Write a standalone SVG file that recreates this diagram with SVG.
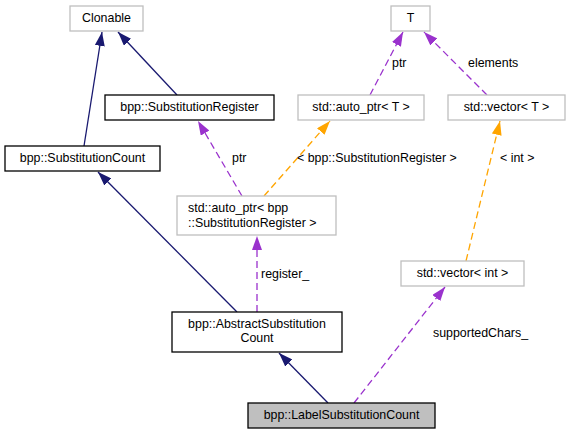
<svg xmlns="http://www.w3.org/2000/svg" width="570" height="435" viewBox="0 0 570 435">
<style>
text{font-family:"Liberation Sans",Arial,sans-serif;font-size:12.4px;fill:#000}
.c{text-anchor:middle}
.g{fill:#fff;stroke:#bfbfbf;stroke-width:1.3}
.b{fill:#fff;stroke:#000;stroke-width:1.3}
.s{fill:#bfbfbf;stroke:#000;stroke-width:1.3}
.inh{fill:none;stroke:#191970;stroke-width:1.3}
.use{fill:none;stroke:#9a32cd;stroke-width:1.3;stroke-dasharray:7,4}
.tpl{fill:none;stroke:#ffa500;stroke-width:1.3;stroke-dasharray:7,4}
</style>
<defs>
<marker id="an" viewBox="0 0 14 10" refX="14" refY="5" markerWidth="14" markerHeight="10" markerUnits="userSpaceOnUse" orient="auto"><path d="M0,0L14,5L0,10z" fill="#191970"/></marker>
<marker id="ap" viewBox="0 0 14 10" refX="14" refY="5" markerWidth="14" markerHeight="10" markerUnits="userSpaceOnUse" orient="auto"><path d="M0,0L14,5L0,10z" fill="#9a32cd"/></marker>
<marker id="ao" viewBox="0 0 14 10" refX="14" refY="5" markerWidth="14" markerHeight="10" markerUnits="userSpaceOnUse" orient="auto"><path d="M0,0L14,5L0,10z" fill="#ffa500"/></marker>
</defs>
<g id="edges">
<path class="inh" d="M84,146L102,32" marker-end="url(#an)"/>
<path class="inh" d="M177,95L118,32" marker-end="url(#an)"/>
<path class="inh" d="M237,312L98,172" marker-end="url(#an)"/>
<path class="inh" d="M328,403L279,353" marker-end="url(#an)"/>
<path class="use" d="M354,403L445,287" marker-end="url(#ap)"/>
<path class="use" d="M257,312L257,236" marker-end="url(#ap)"/>
<path class="use" d="M242,196L198,121" marker-end="url(#ap)"/>
<path class="tpl" d="M264,196L330,121" marker-end="url(#ao)"/>
<path class="use" d="M370,95L403,32" marker-end="url(#ap)"/>
<path class="use" d="M487,95L424,32" marker-end="url(#ap)"/>
<path class="tpl" d="M466,261L500,121" marker-end="url(#ao)"/>
<text x="232" y="162">ptr</text>
<text x="297" y="162">&lt; bpp::SubstitutionRegister &gt;</text>
<text x="392" y="67">ptr</text>
<text x="468" y="67">elements</text>
<text x="500" y="162">&lt; int &gt;</text>
<text x="261" y="278">register_</text>
<text x="433" y="337">supportedChars_</text>
</g>
<g id="Clonable"><rect class="g" x="70" y="6" width="73" height="25"/><text class="c" x="106.5" y="22">Clonable</text></g>
<g id="SubstitutionRegister"><rect class="b" x="105" y="95" width="169" height="25"/><text class="c" x="189.5" y="111">bpp::SubstitutionRegister</text></g>
<g id="SubstitutionCount"><rect class="b" x="5" y="146" width="155" height="25"/><text class="c" x="82.5" y="162">bpp::SubstitutionCount</text></g>
<g id="T"><rect class="g" x="391" y="6" width="39" height="25"/><text class="c" x="410.5" y="22">T</text></g>
<g id="autoptrT"><rect class="g" x="298" y="95" width="126" height="25"/><text class="c" x="361" y="111">std::auto_ptr&lt; T &gt;</text></g>
<g id="vectorT"><rect class="g" x="448" y="95" width="117" height="25"/><text class="c" x="506.5" y="111">std::vector&lt; T &gt;</text></g>
<g id="autoptrReg"><rect class="g" x="177" y="196" width="159" height="39"/><text x="188" y="212">std::auto_ptr&lt; bpp</text><text x="188" y="227">::SubstitutionRegister &gt;</text></g>
<g id="vectorInt"><rect class="g" x="401" y="261" width="123" height="25"/><text class="c" x="462.5" y="277">std::vector&lt; int &gt;</text></g>
<g id="AbstractSubstitutionCount"><rect class="b" x="172" y="312" width="170" height="40"/><text class="c" x="257" y="328">bpp::AbstractSubstitution</text><text class="c" x="257" y="342">Count</text></g>
<g id="LabelSubstitutionCount"><rect class="s" x="248" y="403" width="187" height="25"/><text class="c" x="341.5" y="419">bpp::LabelSubstitutionCount</text></g>
</svg>
